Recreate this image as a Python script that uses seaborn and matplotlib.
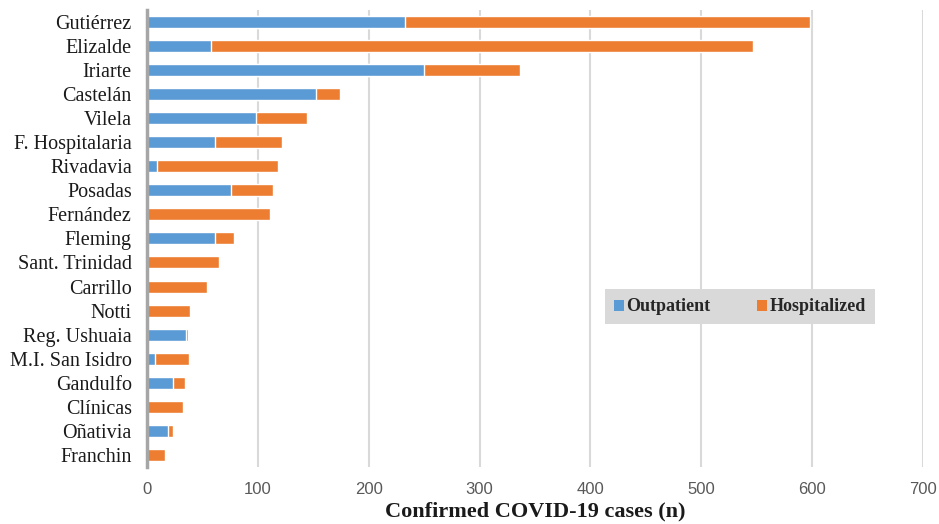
import matplotlib
matplotlib.use('Agg')
import matplotlib.pyplot as plt
import seaborn as sns
import pandas as pd
from matplotlib.patches import Patch

# Hospitals and confirmed cases
hospitales = ['Gutiérrez', 'Elizalde', 'Iriarte', 'Castelán', 'Vilela', 'F. Hospitalaria',
              'Rivadavia', 'Posadas', 'Fernández', 'Fleming', 'Sant. Trinidad', 'Carrillo',
              'Notti', 'Reg. Ushuaia', 'M.I. San Isidro', 'Gandulfo', 'Clínicas',
              'Oñativia', 'Franchin']
ambulatorios = [233, 58, 250, 152, 98, 61, 9, 76, 0, 61, 0, 0, 0, 35, 7, 23, 0, 19, 0]
internados = [365, 489, 86, 22, 46, 61, 109, 38, 111, 17, 65, 54, 39, 2, 31, 11, 32, 4, 16]

df = pd.DataFrame({'hospital': hospitales,
                   'Outpatient': ambulatorios,
                   'Hospitalized': internados})
df['total'] = df['Outpatient'] + df['Hospitalized']

azul = '#5B9BD5'
naranja = '#ED7D31'
serif = ['Liberation Serif', 'DejaVu Serif']

sns.set_style('white')

fig = plt.figure(figsize=(9.39, 5.24), dpi=100)
ax = fig.add_axes([0.1566, 0.109, 0.983 - 0.1566, 0.981 - 0.109])

sns.barplot(data=df, x='total', y='hospital', color=naranja, orient='h',
            width=0.5, saturation=1, ax=ax, zorder=3)
sns.barplot(data=df, x='Outpatient', y='hospital', color=azul, orient='h',
            width=0.5, saturation=1, ax=ax, zorder=4)

ax.set_xlim(0, 700)
ax.set_xticks(range(0, 701, 100))
ax.grid(axis='x', color='#d9d9d9', linewidth=1.5, zorder=0)
ax.grid(axis='y', visible=False)

for s in ['top', 'right', 'bottom']:
    ax.spines[s].set_visible(False)
ax.spines['left'].set_color('#a6a6a6')
ax.spines['left'].set_linewidth(2.5)
ax.spines['left'].set_zorder(5)

ax.tick_params(axis='both', length=0)
ax.tick_params(axis='y', pad=11)
ax.tick_params(axis='x', pad=11)
for lbl in ax.get_yticklabels():
    lbl.set_family(serif)
    lbl.set_fontsize(14.5)
    lbl.set_color('#1a1a1a')
for lbl in ax.get_xticklabels():
    lbl.set_family(['Liberation Sans Narrow', 'Liberation Sans'])
    lbl.set_fontsize(12)
    lbl.set_color('#595959')

ax.set_ylabel('')
ax.set_xlabel('Confirmed COVID-19 cases (n)', family=serif, fontsize=16,
              fontweight='bold', color='#1a1a1a', labelpad=3)

handles = [Patch(facecolor=azul, edgecolor='none', label='Outpatient'),
           Patch(facecolor=naranja, edgecolor='none', label='Hospitalized')]
leg = ax.legend(handles=handles, loc='center', bbox_to_anchor=(0.764, 0.35), ncol=2,
                frameon=True, fancybox=False, facecolor='#d9d9d9', edgecolor='none',
                framealpha=1, handlelength=0.55, handleheight=0.55, handletextpad=0.15,
                columnspacing=2.6, borderpad=0.5,
                prop={'family': serif, 'weight': 'bold', 'size': 13})
leg.set_zorder(6)

plt.savefig('out.png', dpi=100)
